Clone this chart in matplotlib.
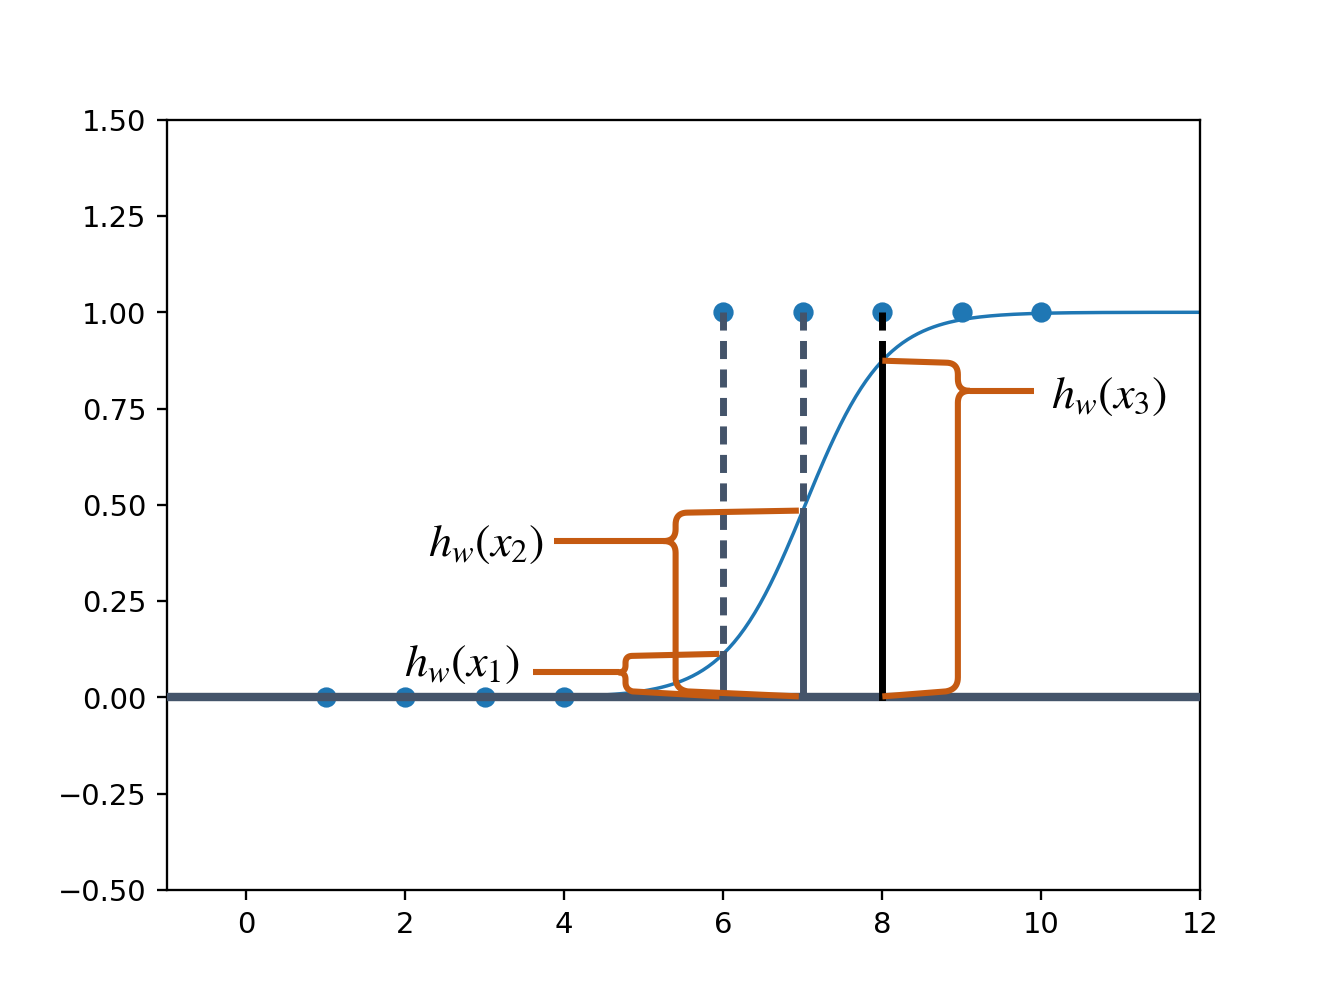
import numpy as np
import matplotlib
matplotlib.use('Agg')
import matplotlib.pyplot as plt

plt.rcParams['mathtext.fontset'] = 'stix'

# Data
x_neg = [1, 2, 3, 4]
y_neg = [0, 0, 0, 0]
x_pos = [6, 7, 8, 9, 10]
y_pos = [1, 1, 1, 1, 1]
sig_center = 7.03
sig_slope = 2.0
marked_x = [6, 7, 8]
labels = [r'$h_w(x_1)$', r'$h_w(x_2)$', r'$h_w(x_3)$']

slate = '#44546A'
orange = '#C55A11'
blue = '#1f77b4'


def sigmoid(x):
    return 1.0 / (1.0 + np.exp(-sig_slope * (np.asarray(x) - sig_center)))


fig, ax = plt.subplots(figsize=(6.4, 4.8), dpi=208.4)
ax.set_xlim(-1, 12)
ax.set_ylim(-0.5, 1.5)
ax.set_yticks([-0.5, -0.25, 0, 0.25, 0.5, 0.75, 1.0, 1.25, 1.5])
ax.set_xticks([0, 2, 4, 6, 8, 10, 12])

xs = np.linspace(-1, 12, 400)
ax.plot(xs, sigmoid(xs), color=blue, lw=1.2, zorder=2)
ax.scatter(x_neg, y_neg, color=blue, s=36, zorder=3)
ax.scatter(x_pos, y_pos, color=blue, s=36, zorder=3)
ax.axhline(0, color=slate, lw=2.9, zorder=4)

# vertical lines: dashed above the curve, solid below
for xv in marked_x:
    c = 'black' if xv == 8 else slate
    h = float(sigmoid(xv))
    ax.plot([xv, xv], [1, h], color=c, lw=2.4, ls=(0, (2.6, 1.5)), zorder=4)
    ax.plot([xv, xv], [h, 0], color=c, lw=2.4, zorder=4)

fig.canvas.draw()
P = ax.transData.transform
Pinv = ax.transData.inverted().transform


def quad(p0, c, p1, n=12):
    t = np.linspace(0, 1, n)[:, None]
    return (1 - t) ** 2 * p0 + 2 * (1 - t) * t * c + t ** 2 * p1


def brace(xe, yt, yb, xs_, yc, xtail, r, side):
    # pixel-space brace; side=-1 tip to left, +1 tip to right
    s = -side
    pts_a = [np.array([[xe, yt]]),
             np.array([[xs_ + s * r, yt - 2]]),
             quad(np.array([xs_ + s * r, yt - 2]), np.array([xs_, yt - 2]), np.array([xs_, yt - 2 - r])),
             quad(np.array([xs_, yc + r]), np.array([xs_, yc]), np.array([xs_ - s * r, yc]))]
    pts_b = [quad(np.array([xs_ - s * r, yc]), np.array([xs_, yc]), np.array([xs_, yc - r])),
             quad(np.array([xs_, yb + 8 + r]), np.array([xs_, yb + 8]), np.array([xs_ + s * r, yb + 6])),
             np.array([[xe, yb + 1]])]
    tail = np.array([[xs_ - s * r, yc], [xtail, yc]])
    for seg in (np.vstack(pts_a), np.vstack(pts_b), tail):
        d = Pinv(seg)
        ax.plot(d[:, 0], d[:, 1], color=orange, lw=2.1, solid_capstyle='butt',
                solid_joinstyle='round', zorder=5, clip_on=False)


# brace layout: (spine x, cusp y, tail x) in data units
brace_spine = [4.77, 5.40, 8.95]
brace_cusp = [0.065, 0.406, 0.796]
brace_tail = [3.61, 3.87, 9.91]
brace_side = [-1, -1, 1]
brace_r = [7, 12, 12]
for xv, sx, cy, tx, sd, r in zip(marked_x, brace_spine, brace_cusp, brace_tail, brace_side, brace_r):
    xe, yt = P((xv - 0.05 if sd < 0 else xv, float(sigmoid(xv))))
    _, yb = P((xv, 0))
    xsp, ycp = P((sx, cy))
    xtl, _ = P((tx, cy))
    brace(xe, yt, yb, xsp, ycp, xtl, r, sd)

label_pos = [(3.45, 0.09, 'right'), (3.75, 0.40, 'right'), (10.12, 0.785, 'left')]
for lab, (lx, ly, ha) in zip(labels, label_pos):
    ax.text(lx, ly, lab, fontsize=16, ha=ha, va='center', zorder=6)

fig.savefig('out.png', dpi=208.4)
